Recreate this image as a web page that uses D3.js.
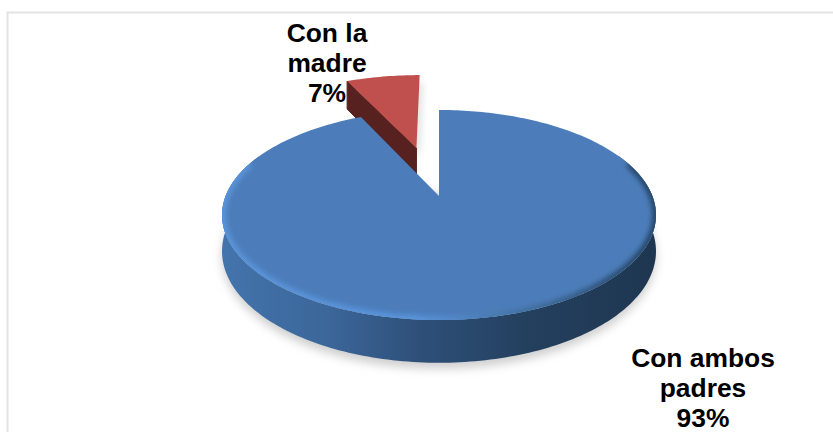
<!DOCTYPE html>
<html lang="es">
<head>
<meta charset="utf-8">
<title>Con quién vive</title>
<script src="https://cdn.jsdelivr.net/npm/d3@7/dist/d3.min.js"></script>
<style>
  html, body { margin: 0; padding: 0; background: #fff; }
  svg { display: block; }
  text { font-family: "Liberation Sans", Arial, sans-serif; font-weight: 700; font-size: 26.4px; fill: #000; }
</style>
</head>
<body>
<svg id="chart" width="833" height="432"></svg>
<script>
const categories = ["Con ambos padres", "Con la madre"];
const values = [93, 7];
const labelLines = [["Con ambos", "padres"], ["Con la", "madre"]];
const explode = [0, 0.53];

const svg = d3.select("#chart");
const defs = svg.append("defs");

// Tilted disc: unit coordinates (X right, Y away from the viewer) to screen pixels
const cx = 439, R = 213.4, apexY = 196, tiltB = -66.1, tiltC = 0.181, depth = 35;
function project(X, Y, down = 0) {
  const k = 1 / (1 + tiltC * Y);
  return [cx + R * X * k, (apexY + tiltB * Y) * k + down * k];
}

const pie = d3.pie().sort(null).value(d => d);
const arcs = pie(values);
const line = d3.line();

// Offset of an exploded slice along its bisector, in disc units
function shift(a, amount) {
  const mid = (a.startAngle + a.endAngle) / 2;
  return [Math.sin(mid) * amount, Math.cos(mid) * amount];
}
function rimPoint(theta, off, down = 0) {
  return project(off[0] + Math.sin(theta), off[1] + Math.cos(theta), down);
}
function rim(a0, a1, off, down = 0) {
  const n = Math.max(2, Math.ceil(Math.abs(a1 - a0) / 0.02));
  return d3.range(n + 1).map(i => rimPoint(a0 + (a1 - a0) * i / n, off, down));
}

// Gradients and filters
function hGradient(id, stops) {
  const g = defs.append("linearGradient").attr("id", id)
    .attr("gradientUnits", "userSpaceOnUse")
    .attr("x1", 222).attr("x2", 656).attr("y1", 0).attr("y2", 0);
  stops.forEach(s => g.append("stop").attr("offset", s[0]).attr("stop-color", s[1]));
}
hGradient("blueSide", [[0, "#4374ac"], [0.25, "#3b6699"], [0.45, "#2e5079"], [0.7, "#24405f"], [1, "#1e3650"]]);
hGradient("blueBevel", [[0, "#5a94da"], [0.45, "#5a94dc"], [0.7, "#42709f"], [0.9, "#2c4f76"], [1, "#264668"]]);
[["blur3", 3], ["blur6", 5], ["bevelBlur", 2.6]].forEach(([id, s]) => {
  defs.append("filter").attr("id", id)
    .attr("x", "-20%").attr("y", "-20%").attr("width", "140%").attr("height", "140%")
    .append("feGaussianBlur").attr("stdDeviation", s);
});

// Chart frame: top and left edges only
svg.append("path")
  .attr("d", "M7.5,432V12.5H833")
  .attr("fill", "none").attr("stroke", "#e4e4e4").attr("stroke-width", 2);

const blue = arcs[0], red = arcs[1];
const redOff = shift(red, explode[1]);
const blueOff = [0, 0];

const front0 = Math.PI * 0.36, front1 = Math.PI * 1.64;

// Soft shadow below the front of the thick disc
svg.append("path")
  .attr("d", line(rim(front0, front1, blueOff, depth + 5)) + "Z")
  .attr("fill", "#cfcfcf").attr("filter", "url(#blur6)");

// Faint shadow cast to the right of the detached slice
const redTopPts = [project(redOff[0], redOff[1])].concat(rim(red.startAngle, red.endAngle, redOff));
svg.append("path")
  .attr("d", line(redTopPts.map(p => [p[0] + 4, p[1] + 8])) + "Z")
  .attr("fill", "#e6e6e6").attr("filter", "url(#blur3)");

// Detached slice: cut wall, then top face
const apexTop = project(redOff[0], redOff[1]);
const apexBottom = project(redOff[0], redOff[1], depth);
const redCorner = rimPoint(red.startAngle, redOff);
const redCornerBottom = rimPoint(red.startAngle, redOff, depth);
svg.append("path")
  .attr("d", line([apexTop, redCorner, redCornerBottom, apexBottom]) + "Z")
  .attr("fill", "#57211f").attr("stroke", "#57211f").attr("stroke-width", 1).attr("stroke-linejoin", "round");
svg.append("path")
  .attr("d", line(redTopPts) + "Z")
  .attr("fill", "#c0504d");

// Main slice: side wall along the front of the rim
const sidePts = rim(front0, front1, blueOff).concat(rim(front1, front0, blueOff, depth));
svg.append("path")
  .attr("d", line(sidePts) + "Z")
  .attr("fill", "url(#blueSide)");

// Main slice: top face with a bevelled edge kept inside its outline
const blueTopPts = [project(0, 0)].concat(rim(blue.startAngle, blue.endAngle, blueOff));
const blueTop = line(blueTopPts) + "Z";
defs.append("clipPath").attr("id", "blueClip").append("path").attr("d", blueTop);
svg.append("path").attr("d", blueTop).attr("fill", "#4c7dba");
svg.append("g").attr("clip-path", "url(#blueClip)")
  .append("path")
  .attr("d", line(rim(front0 + 0.12, front1 - 0.12, blueOff)))
  .attr("fill", "none")
  .attr("stroke", "url(#blueBevel)")
  .attr("stroke-width", 8)
  .attr("stroke-linecap", "round")
  .attr("filter", "url(#bevelBlur)");

// Labels
const labelPos = [{ x: 703, y: 367 }, { x: 327, y: 42 }];
const lineGap = 30;
const labels = svg.append("g").attr("text-anchor", "middle");
arcs.forEach((a, i) => {
  const t = labels.append("text").attr("x", labelPos[i].x).attr("y", labelPos[i].y);
  labelLines[i].concat(values[i] + "%").forEach((s, j) => {
    t.append("tspan").attr("x", labelPos[i].x).attr("dy", j ? lineGap : 0).text(s);
  });
});
</script>
</body>
</html>
